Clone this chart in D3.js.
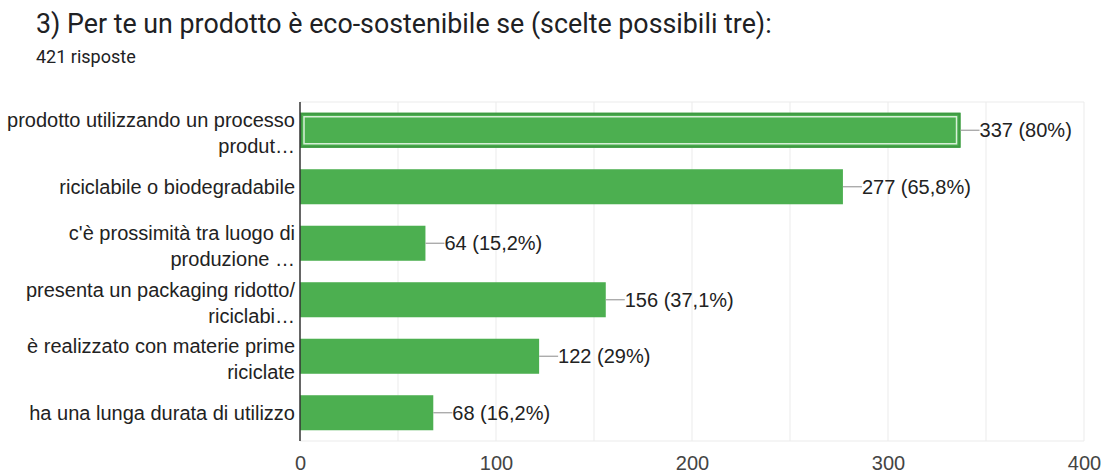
<!DOCTYPE html>
<html>
<head>
<meta charset="utf-8">
<script src="https://cdn.jsdelivr.net/npm/d3@7"></script>
<style>
  html, body { margin: 0; padding: 0; background: #fff; }
  svg { display: block; }
</style>
</head>
<body>
<svg id="chart" width="1104" height="473"></svg>
<script>
// Answers to question 3 (multiple choice, up to three)
const categories = [
  ["prodotto utilizzando un processo", "produt…"],
  ["riciclabile o biodegradabile"],
  ["c'è prossimità tra luogo di", "produzione …"],
  ["presenta un packaging ridotto/", "riciclabi…"],
  ["è realizzato con materie prime", "riciclate"],
  ["ha una lunga durata di utilizzo"]
];
const counts = [337, 277, 64, 156, 122, 68];
const percentLabels = ["80%", "65,8%", "15,2%", "37,1%", "29%", "16,2%"];
const xTicks = [0, 100, 200, 300, 400];
const gridTicks = [50, 100, 150, 200, 250, 300, 350, 400];
const title = "3) Per te un prodotto è eco-sostenibile se (scelte possibili tre):";
const subtitle = "421 risposte";

const svg = d3.select("#chart");
const plotTop = 102, plotBottom = 441;

const x = d3.scaleLinear().domain([0, 400]).range([300, 1084]);
const y = d3.scaleBand().domain(d3.range(categories.length))
  .range([plotTop, plotBottom]).paddingInner(0.38).paddingOuter(0.19);

const textFont = "'Liberation Sans', Arial, sans-serif";
const fs = 20;

// Header
svg.append("text").attr("x", 36).attr("y", 33)
  .attr("font-family", "Roboto, sans-serif").attr("font-size", 26.8)
  .attr("fill", "#202124").text(title);
svg.append("text").attr("x", 36).attr("y", 63)
  .attr("font-family", "Roboto, sans-serif").attr("font-size", 18)
  .attr("fill", "#202124").text(subtitle);

// Grid
const grid = svg.append("g");
grid.selectAll("line.v").data(gridTicks).join("line")
  .attr("x1", d => x(d)).attr("x2", d => x(d))
  .attr("y1", plotTop).attr("y2", plotBottom)
  .attr("stroke", "#ebebeb").attr("stroke-width", 1);
grid.append("line").attr("x1", x(0)).attr("x2", x(400))
  .attr("y1", plotTop).attr("y2", plotTop)
  .attr("stroke", "#ebebeb");
grid.append("line").attr("x1", x(0)).attr("x2", x(400))
  .attr("y1", plotBottom).attr("y2", plotBottom)
  .attr("stroke", "#ebebeb");

// Bars
const bars = svg.append("g");
bars.selectAll("rect").data(counts).join("rect")
  .attr("x", x(0)).attr("y", (d, i) => y(i))
  .attr("width", d => x(d) - x(0)).attr("height", y.bandwidth())
  .attr("fill", "#4caf50");

// First bar is shown in its highlighted state
const hb = 0;
bars.append("rect")
  .attr("x", x(0) + 1).attr("y", y(hb) + 1)
  .attr("width", x(counts[hb]) - x(0) - 2).attr("height", y.bandwidth() - 2)
  .attr("fill", "none").attr("stroke", "#3e9a42").attr("stroke-width", 2);
bars.append("rect")
  .attr("x", x(0) + 4).attr("y", y(hb) + 4)
  .attr("width", x(counts[hb]) - x(0) - 8).attr("height", y.bandwidth() - 8)
  .attr("fill", "none").attr("stroke", "#d8f0d8").attr("stroke-width", 1.5);

// Value annotations
const ann = svg.append("g");
counts.forEach((v, i) => {
  const cy = y(i) + y.bandwidth() / 2;
  ann.append("line").attr("x1", x(v)).attr("x2", x(v) + 19)
    .attr("y1", cy).attr("y2", cy)
    .attr("stroke", "#9e9e9e").attr("stroke-width", 1.2);
  ann.append("text").attr("x", x(v) + 19).attr("y", cy + 7)
    .attr("font-family", textFont).attr("font-size", fs)
    .attr("fill", "#222").text(`${v} (${percentLabels[i]})`);
});

// Category labels
const cat = svg.append("g");
categories.forEach((lines, i) => {
  const cy = y(i) + y.bandwidth() / 2;
  const t = cat.append("text").attr("text-anchor", "end")
    .attr("font-family", textFont).attr("font-size", fs).attr("fill", "#222");
  lines.forEach((ln, j) => {
    const base = lines.length === 1 ? cy + 7 : cy - 3 + j * 26;
    t.append("tspan").attr("x", 295).attr("y", base).text(ln);
  });
});

// Axis line
svg.append("line").attr("x1", x(0)).attr("x2", x(0))
  .attr("y1", plotTop).attr("y2", plotBottom)
  .attr("stroke", "#333").attr("stroke-width", 1.5);

// X axis labels
const xAxis = d3.axisBottom(x).tickValues(xTicks).tickSize(0).tickPadding(0);
const gx = svg.append("g").attr("transform", `translate(0,${plotBottom})`).call(xAxis);
gx.select(".domain").remove();
gx.selectAll("text").attr("dy", null).attr("y", 29)
  .attr("font-family", textFont).attr("font-size", fs)
  .attr("fill", "#444");
</script>
</body>
</html>
